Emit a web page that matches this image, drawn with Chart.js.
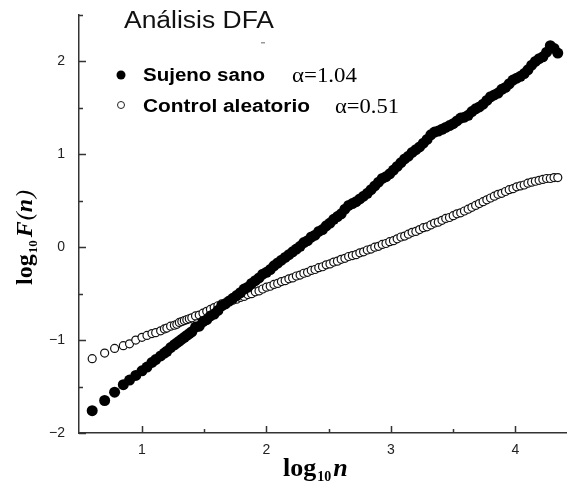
<!DOCTYPE html>
<html>
<head>
<meta charset="utf-8">
<script src="https://cdn.jsdelivr.net/npm/chart.js@4.4.1/dist/chart.umd.min.js"></script>
<style>
  html, body { margin: 0; padding: 0; background: #fff; }
  canvas { display: block; }
</style>
</head>
<body>
<canvas id="chart" width="567" height="483"></canvas>
<script>
// log10 n (box sizes), shared by both series
const logN = [
  0.60, 0.70, 0.78, 0.85, 0.90, 0.95, 1.00, 1.04, 1.08, 1.11, 1.15, 1.18, 1.20, 1.23, 1.26, 1.28, 1.30, 1.32, 1.34, 1.36, 1.38,
  1.40, 1.43, 1.46, 1.49, 1.52, 1.55, 1.58, 1.61, 1.64, 1.67,
  1.70, 1.73, 1.76, 1.79, 1.82, 1.85, 1.88, 1.91, 1.94, 1.97,
  2.00, 2.03, 2.06, 2.09, 2.12, 2.15, 2.18, 2.21, 2.24, 2.27,
  2.30, 2.33, 2.36, 2.39, 2.42, 2.45, 2.48, 2.51, 2.54, 2.57,
  2.60, 2.63, 2.66, 2.69, 2.72, 2.75, 2.78, 2.81, 2.84, 2.87,
  2.90, 2.93, 2.96, 2.99, 3.02, 3.05, 3.08, 3.11, 3.14, 3.17,
  3.20, 3.23, 3.26, 3.29, 3.32, 3.35, 3.38, 3.41, 3.44, 3.47,
  3.50, 3.53, 3.56, 3.59, 3.62, 3.65, 3.68, 3.71, 3.74, 3.77,
  3.80, 3.83, 3.86, 3.89, 3.92, 3.95, 3.98, 4.01, 4.04, 4.07,
  4.10, 4.13, 4.16, 4.19, 4.22, 4.25, 4.28, 4.31, 4.34
];

// log10 F(n), sujeto sano (alpha 1.04)
const sanoF = [
  -1.76, -1.65, -1.56, -1.48, -1.43, -1.38, -1.33, -1.29, -1.24, -1.21, -1.17, -1.14, -1.12, -1.08, -1.05, -1.03, -1.01, -0.99, -0.97, -0.95, -0.93,
  -0.91, -0.86, -0.85, -0.80, -0.78, -0.74, -0.72, -0.68, -0.63, -0.61,
  -0.58, -0.55, -0.52, -0.49, -0.45, -0.43, -0.39, -0.36, -0.33, -0.29,
  -0.27, -0.24, -0.20, -0.17, -0.14, -0.11, -0.08, -0.05, -0.02, 0.01,
  0.05, 0.07, 0.11, 0.13, 0.17, 0.19, 0.23, 0.26, 0.30, 0.33,
  0.36, 0.41, 0.45, 0.47, 0.49, 0.52, 0.55, 0.58, 0.62, 0.66,
  0.70, 0.74, 0.76, 0.79, 0.83, 0.87, 0.91, 0.95, 0.98, 1.02,
  1.05, 1.08, 1.12, 1.16, 1.21, 1.24, 1.25, 1.27, 1.29, 1.31,
  1.33, 1.36, 1.39, 1.40, 1.42, 1.46, 1.49, 1.51, 1.54, 1.58,
  1.62, 1.64, 1.66, 1.70, 1.72, 1.76, 1.80, 1.82, 1.84, 1.87,
  1.91, 1.96, 2.00, 2.03, 2.05, 2.10, 2.17, 2.14, 2.09
];

// log10 F(n), control aleatorio (alpha 0.51)
const aleatorioF = [
  -1.20, -1.14, -1.09, -1.06, -1.04, -1.00, -0.97, -0.95, -0.93, -0.92, -0.90, -0.88, -0.87, -0.85, -0.84, -0.83, -0.81, -0.80, -0.79, -0.78, -0.77,
  -0.76, -0.74, -0.73, -0.71, -0.69, -0.67, -0.65, -0.63, -0.61, -0.60,
  -0.58, -0.57, -0.56, -0.54, -0.53, -0.51, -0.50, -0.48, -0.47, -0.45,
  -0.43, -0.42, -0.40, -0.39, -0.37, -0.36, -0.34, -0.33, -0.31, -0.30,
  -0.28, -0.27, -0.25, -0.24, -0.22, -0.21, -0.19, -0.18, -0.16, -0.15,
  -0.13, -0.12, -0.10, -0.09, -0.08, -0.06, -0.05, -0.03, -0.02, 0.00,
  0.01, 0.03, 0.04, 0.06, 0.07, 0.09, 0.11, 0.12, 0.14, 0.16,
  0.17, 0.19, 0.21, 0.22, 0.24, 0.26, 0.27, 0.29, 0.31, 0.32,
  0.34, 0.36, 0.37, 0.39, 0.41, 0.43, 0.45, 0.47, 0.49, 0.51,
  0.53, 0.55, 0.57, 0.58, 0.60, 0.62, 0.63, 0.65, 0.66, 0.67,
  0.69, 0.70, 0.71, 0.72, 0.73, 0.74, 0.74, 0.75, 0.75
];

const xTicks = [1, 2, 3, 4];
const xMinor = [1.5, 2.5, 3.5];
const yTicks = [-2, -1, 0, 1, 2];
const yMinor = [-1.5, -0.5, 0.5, 1.5, 2.5];

const fmt = v => (v < 0 ? "\u2212" + Math.abs(v) : String(v));

// stretch text horizontally so it covers a given width
function fitText(ctx, text, x, y, w) {
  const m = ctx.measureText(text).width;
  ctx.save();
  ctx.translate(x, y);
  ctx.scale(w / m, 1);
  ctx.fillText(text, 0, 0);
  ctx.restore();
}

const decor = {
  id: "decor",
  afterDraw(chart) {
    const ctx = chart.ctx;
    const xs = chart.scales.x;
    const ys = chart.scales.y;
    const area = chart.chartArea;

    // inward tick marks
    ctx.save();
    ctx.strokeStyle = "#333";
    ctx.lineWidth = 1.5;
    ctx.beginPath();
    yTicks.forEach(v => {
      const p = Math.round(ys.getPixelForValue(v)) + 0.5;
      ctx.moveTo(area.left, p); ctx.lineTo(area.left + 7, p);
    });
    yMinor.forEach(v => {
      const p = Math.round(ys.getPixelForValue(v)) + 0.5;
      ctx.moveTo(area.left, p); ctx.lineTo(area.left + 4, p);
    });
    xTicks.forEach(v => {
      const p = Math.round(xs.getPixelForValue(v)) + 0.5;
      ctx.moveTo(p, area.bottom); ctx.lineTo(p, area.bottom - 7);
    });
    xMinor.forEach(v => {
      const p = Math.round(xs.getPixelForValue(v)) + 0.5;
      ctx.moveTo(p, area.bottom); ctx.lineTo(p, area.bottom - 4);
    });
    ctx.stroke();

    ctx.textBaseline = "alphabetic";
    ctx.textAlign = "left";

    // title
    ctx.fillStyle = "#111";
    ctx.font = "23px 'Liberation Sans', Arial, sans-serif";
    fitText(ctx, "Análisis DFA", 124, 28, 150);
    ctx.fillStyle = "#999";
    ctx.fillRect(261, 42, 4, 1.5);

    // legend
    ctx.fillStyle = "#000";
    ctx.beginPath();
    ctx.arc(121, 75, 4.5, 0, Math.PI * 2);
    ctx.fill();
    ctx.beginPath();
    ctx.arc(121, 105, 3.5, 0, Math.PI * 2);
    ctx.fillStyle = "#fff";
    ctx.fill();
    ctx.strokeStyle = "#222";
    ctx.lineWidth = 1;
    ctx.stroke();

    ctx.fillStyle = "#000";
    ctx.font = "bold 18px 'Liberation Sans', Arial, sans-serif";
    fitText(ctx, "Sujeno sano", 143, 81, 122);
    fitText(ctx, "Control aleatorio", 143, 112, 167);
    ctx.font = "20px 'Liberation Serif', 'Times New Roman', serif";
    fitText(ctx, "\u03b1=1.04", 292, 82, 65);
    fitText(ctx, "\u03b1=0.51", 335, 113, 64);

    // x axis title: log10 n
    let x = 283;
    const by = 476;
    ctx.font = "bold 26px 'Liberation Serif', 'Times New Roman', serif";
    ctx.fillText("log", x, by);
    x += ctx.measureText("log").width + 1;
    ctx.font = "bold 14px 'Liberation Serif', 'Times New Roman', serif";
    ctx.fillText("10", x, by + 5);
    x += ctx.measureText("10").width + 2;
    ctx.font = "bold italic 26px 'Liberation Serif', 'Times New Roman', serif";
    ctx.fillText("n", x, by);

    // y axis title: log10 F(n)
    ctx.save();
    ctx.translate(32, 285);
    ctx.rotate(-Math.PI / 2);
    let t = 0;
    ctx.font = "bold 24px 'Liberation Serif', 'Times New Roman', serif";
    ctx.fillText("log", t, 0);
    t += ctx.measureText("log").width + 1;
    ctx.font = "bold 13px 'Liberation Serif', 'Times New Roman', serif";
    ctx.fillText("10", t, 5);
    t += ctx.measureText("10").width + 3;
    ctx.font = "bold italic 24px 'Liberation Serif', 'Times New Roman', serif";
    ctx.fillText("F", t, 0);
    t += ctx.measureText("F").width + 1;
    ctx.font = "italic 24px 'Liberation Serif', 'Times New Roman', serif";
    ctx.fillText("(", t, 0);
    t += ctx.measureText("(").width;
    ctx.font = "bold italic 24px 'Liberation Serif', 'Times New Roman', serif";
    ctx.fillText("n", t, 0);
    t += ctx.measureText("n").width + 1;
    ctx.font = "italic 24px 'Liberation Serif', 'Times New Roman', serif";
    ctx.fillText(")", t, 0);
    ctx.restore();

    ctx.restore();
  }
};

const tickFont = { family: "'Liberation Sans', Arial, sans-serif", size: 14 };

// drop the extra padding Chart.js reserves for edge labels
const noPad = s => {
  s.paddingTop = 0; s.paddingBottom = 0;
  s.paddingLeft = 0; s.paddingRight = 0;
};

new Chart(document.getElementById("chart"), {
  type: "scatter",
  data: {
    datasets: [
      {
        label: "Sujeno sano",
        data: logN.map((x, i) => ({ x: x, y: sanoF[i] })),
        pointRadius: 5.5,
        pointBackgroundColor: "#000",
        pointBorderColor: "#000",
        pointBorderWidth: 0,
        clip: false
      },
      {
        label: "Control aleatorio",
        data: logN.map((x, i) => ({ x: x, y: aleatorioF[i] })),
        pointRadius: 4,
        pointBackgroundColor: "#fff",
        pointBorderColor: "#111",
        pointBorderWidth: 1.2,
        clip: false
      }
    ]
  },
  options: {
    responsive: false,
    animation: false,
    events: [],
    layout: { autoPadding: false, padding: { top: 15, left: 0, right: 0, bottom: 0 } },
    plugins: {
      legend: { display: false },
      tooltip: { enabled: false }
    },
    scales: {
      x: {
        type: "linear",
        min: 0.494,
        max: 4.414,
        afterFit: s => { s.height = 50; noPad(s); },
        afterBuildTicks: s => { s.ticks = xTicks.map(v => ({ value: v })); },
        grid: { display: true, drawOnChartArea: false, drawTicks: false, color: "transparent" },
        border: { display: true, color: "#333", width: 1.5 },
        ticks: { padding: 9, font: tickFont, color: "#222", maxRotation: 0, autoSkip: false, callback: v => fmt(v) }
      },
      y: {
        type: "linear",
        min: -2,
        max: 2.5,
        afterFit: s => { s.width = 79; noPad(s); },
        afterBuildTicks: s => { s.ticks = yTicks.map(v => ({ value: v })); },
        grid: { display: true, drawOnChartArea: false, drawTicks: false, color: "transparent" },
        border: { display: true, color: "#333", width: 1.5 },
        ticks: { padding: 14, font: tickFont, color: "#222", autoSkip: false, callback: v => fmt(v) }
      }
    }
  },
  plugins: [decor]
});
</script>
</body>
</html>
